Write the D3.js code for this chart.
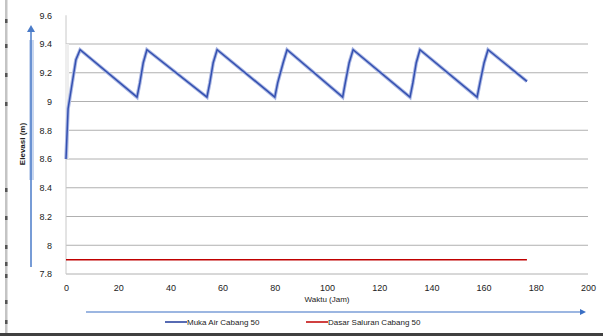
<!DOCTYPE html>
<html><head><meta charset="utf-8">
<script src="https://cdn.jsdelivr.net/npm/d3@7"></script>
<style>body{margin:0;background:#fff}svg{display:block;font-family:"Liberation Sans",Arial,sans-serif}</style>
</head><body><svg id="c" width="603" height="336"></svg>
<script>
const xTicks = [0,20,40,60,80,100,120,140,160,180,200];
const yTicks = [7.8,8,8.2,8.4,8.6,8.8,9,9.2,9.4,9.6];
const yTickLabels = ["7.8","8","8.2","8.4","8.6","8.8","9","9.2","9.4","9.6"];
const mukaTime = [0,0.8,2.3,3.8,5.4,27.2,28.3,29.6,31.0,54.0,55.1,56.4,57.9,80.0,81.1,83.2,84.7,106.0,107.0,108.5,110.0,131.8,132.9,134.2,135.6,157.5,158.6,160.2,161.7,176.6];
const mukaElev = [8.6,8.95,9.12,9.29,9.36,9.03,9.13,9.27,9.36,9.03,9.13,9.27,9.36,9.03,9.13,9.27,9.36,9.03,9.13,9.27,9.36,9.03,9.13,9.27,9.36,9.03,9.13,9.27,9.36,9.14];
const dasarTime = [0,176.6];
const dasarElev = [7.9,7.9];
const seriesNames = ["Muka Air Cabang 50","Dasar Saluran Cabang 50"];
const xTitle = "Waktu (Jam)";
const yTitle = "Elevasi (m)";

const svg = d3.select("#c");
const x = d3.scaleLinear().domain([0,200]).range([66,588]);
const y = d3.scaleLinear().domain([7.8,9.6]).range([274,15.25]);

// outer decorations
svg.append("rect").attr("x",5).attr("y",0).attr("width",2.5).attr("height",333).attr("fill","#c4c4c4");
[19,44,73,102,188,216,245,262,274,300,320].forEach(v=>svg.append("rect").attr("x",5).attr("y",v).attr("width",2.5).attr("height",4).attr("fill","#555"));
svg.append("rect").attr("x",0).attr("y",333).attr("width",603).attr("height",3).attr("fill","#404040");

// gridlines
svg.append("g").selectAll("line").data(yTicks.slice(1,9)).join("line")
  .attr("x1",x(0)).attr("x2",588).attr("y1",d=>y(d)).attr("y2",d=>y(d))
  .attr("stroke","#b0b0b0").attr("stroke-width",1);
svg.append("line").attr("x1",x(0)).attr("x2",588).attr("y1",y(7.8)).attr("y2",y(7.8)).attr("stroke","#b0b0b0");
svg.append("line").attr("x1",x(0)).attr("x2",x(0)).attr("y1",y(9.6)).attr("y2",y(7.8)).attr("stroke","#c8c8c8");
svg.append("rect").attr("x",x(0)-1).attr("y",y(9.4)).attr("width",4).attr("height",y(8.6)-y(9.4)).attr("fill","#eeeeee");

// axes (labels)
const yAxis = d3.axisLeft(y).tickValues(yTicks).tickFormat((d,i)=>yTickLabels[i]).tickSize(0).tickPadding(14);
const gy = svg.append("g").attr("transform",`translate(${x(0)},0)`).call(yAxis);
gy.select(".domain").remove();
gy.selectAll("text").attr("font-size",9).attr("fill","#222");
const xAxis = d3.axisBottom(x).tickValues(xTicks).tickSize(0).tickPadding(11);
const gx = svg.append("g").attr("transform",`translate(0,${y(7.8)})`).call(xAxis);
gx.select(".domain").remove();
gx.selectAll("text").attr("font-size",9).attr("fill","#222");

// blue y arrow
svg.append("rect").attr("x",29).attr("y",40).attr("width",5).attr("height",140).attr("fill","#c9d7ef");
svg.append("line").attr("x1",31).attr("x2",31).attr("y1",30).attr("y2",267).attr("stroke","#4a7bc8").attr("stroke-width",1.5);
svg.append("path").attr("d","M27,32 L31,25 L35,32 Z").attr("fill","#4a7bc8");
svg.append("text").attr("transform","translate(25,144) rotate(-90)").attr("text-anchor","middle")
  .attr("font-size",8).attr("font-weight","bold").attr("fill","#222").text(yTitle);

// x arrow
svg.append("line").attr("x1",86).attr("x2",582).attr("y1",312).attr("y2",312).attr("stroke","#3a6fc4").attr("stroke-width",1.2);
svg.append("path").attr("d","M580,309 L586,312 L580,315 Z").attr("fill","#3a6fc4");
svg.append("text").attr("x",327).attr("y",302).attr("text-anchor","middle").attr("font-size",8).attr("fill","#222").text(xTitle);

// series
const line = d3.line().x(d=>x(d[0])).y(d=>y(d[1]));
svg.append("path").datum(dasarTime.map((t,i)=>[t,dasarElev[i]])).attr("d",line)
  .attr("fill","none").attr("stroke","#c00000").attr("stroke-width",1.5);
svg.append("path").datum(mukaTime.map((t,i)=>[t,mukaElev[i]])).attr("d",line)
  .attr("fill","none").attr("stroke","#a9b6e3").attr("stroke-width",3.5);
svg.append("path").datum(mukaTime.map((t,i)=>[t,mukaElev[i]])).attr("d",line)
  .attr("fill","none").attr("stroke","#3450b0").attr("stroke-width",1.5);

// legend
const colors = ["#1f3a9a","#c00000"];
const lx = [165,306];
seriesNames.forEach((n,i)=>{
  svg.append("line").attr("x1",lx[i]).attr("x2",lx[i]+22).attr("y1",322).attr("y2",322).attr("stroke",colors[i]).attr("stroke-width",1.5);
  svg.append("text").attr("x",lx[i]+22).attr("y",325).attr("font-size",8).attr("fill","#222").text(n);
});
</script></body></html>
